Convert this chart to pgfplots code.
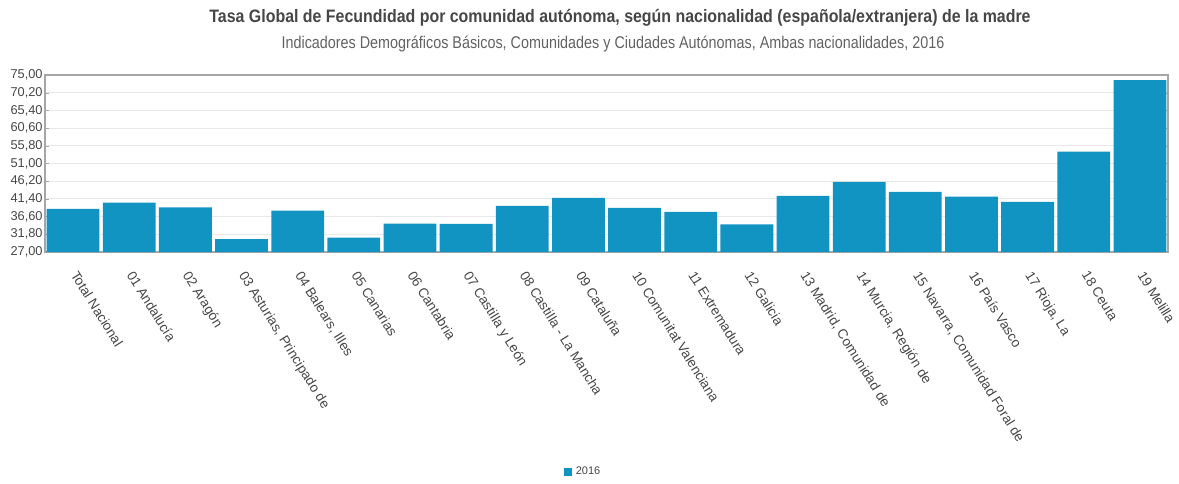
\documentclass[border=0pt]{standalone}
\usepackage{fontspec}
\setmainfont{Liberation Sans}
\newfontfamily\lblfont{Liberation Sans}
\usepackage{pgfplots}
\pgfplotsset{compat=1.18}
\definecolor{barblue}{RGB}{18,148,194}
\definecolor{txtgray}{RGB}{70,70,70}
\begin{document}
\begin{tikzpicture}
\begin{axis}[
  at={(0,0)}, anchor=south west,
  scale only axis,
  width=561.5pt, height=88.5pt,
  ybar, bar width=0.94,
  xmin=-0.5, xmax=19.5,
  ymin=27, ymax=75,
  axis line style={gray!70, line width=0.6pt},
  ytick={27,31.8,36.6,41.4,46.2,51,55.8,60.6,65.4,70.2,75},
  yticklabels={{27,00},{31,80},{36,60},{41,40},{46,20},{51,00},{55,80},{60,60},{65,40},{70,20},{75,00}},
  ymajorgrids,
  grid style={gray!18, line width=0.5pt},
  y tick label style={font=\lblfont\fontsize{6.4}{7}\selectfont, text=txtgray, inner sep=1pt},
  ytick style={gray!70},
  major tick length=2pt,
  xtick={0,...,19},
  xtick style={draw=none},
  xticklabels={{Total Nacional},{01 Andalucía},{02 Aragón},{03 Asturias, Principado de},{04 Balears, Illes},{05 Canarias},{06 Cantabria},{07 Castilla y León},{08 Castilla - La Mancha},{09 Cataluña},{10 Comunitat Valenciana},{11 Extremadura},{12 Galicia},{13 Madrid, Comunidad de},{14 Murcia, Región de},{15 Navarra, Comunidad Foral de},{16 País Vasco},{17 Rioja, La},{18 Ceuta},{19 Melilla}},
  x tick label style={font=\lblfont\fontsize{6.8}{8}\selectfont, text=txtgray, xshift=3pt, yshift=-6pt, rotate=-58, anchor=north west, inner sep=0.5pt},
  legend style={at={(0.48,-1.243)}, anchor=center, draw=none, font=\lblfont\fontsize{5.5}{6}\selectfont, text=txtgray, inner sep=1pt},
  legend image code/.code={\fill[barblue] (0pt,-2pt) rectangle (4pt,2pt);},
  clip=false,
]
\addplot[fill=barblue, draw=none] coordinates {
(0,38.7) (1,40.4) (2,39.1) (3,30.5) (4,38.2) (5,30.9) (6,34.7) (7,34.6) (8,39.5) (9,41.7)
(10,39.0) (11,37.9) (12,34.5) (13,42.2) (14,46.0) (15,43.3) (16,42.0) (17,40.6) (18,54.2) (19,73.6)};
\addlegendentry{2016}
\end{axis}
\node[text=txtgray, font=\bfseries\fontsize{9}{10}\selectfont] at (287.5pt,117pt) {\scalebox{0.885}[1]{Tasa Global de Fecundidad por comunidad autónoma, según nacionalidad (española/extranjera) de la madre}};
\node[text=txtgray!85, font=\fontsize{8.5}{10}\selectfont] at (284pt,104pt) {\scalebox{0.845}[1]{Indicadores Demográficos Básicos, Comunidades y Ciudades Autónomas, Ambas nacionalidades, 2016}};
\path[use as bounding box] (-22.5pt,-115.5pt) rectangle (567pt,126pt);
\end{tikzpicture}
\end{document}
